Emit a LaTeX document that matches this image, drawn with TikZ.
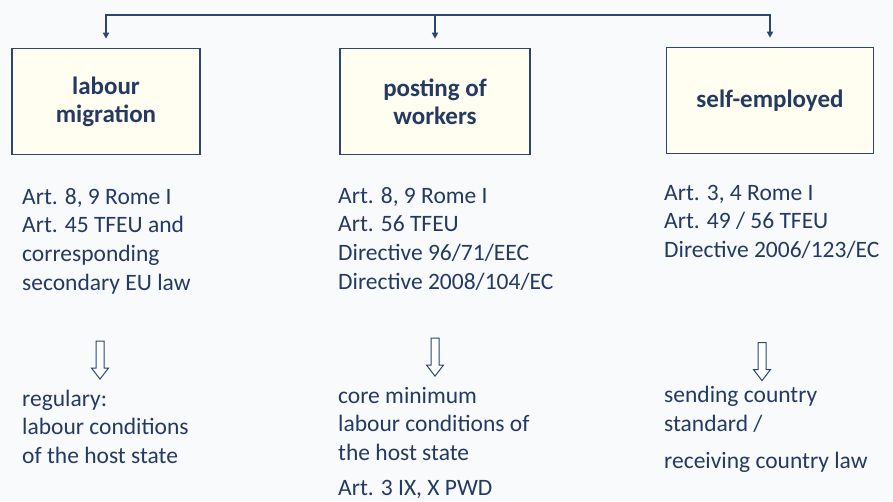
\documentclass[tikz,border=0pt]{standalone}
\usepackage{fontspec}
\setmainfont{Carlito}
\usetikzlibrary{arrows.meta,shapes.arrows}
\definecolor{paper}{HTML}{F9FAFB}
\definecolor{frame}{HTML}{2C4670}
\definecolor{ink}{HTML}{243A63}
\colorlet{boxfill}{yellow!6}
\tikzset{
  field/.style={draw=frame,fill=boxfill,line width=1.6pt,minimum width=188pt,minimum height=106pt,
    align=center,font=\fontsize{25}{28}\selectfont\bfseries,text=ink},
  legal/.style={anchor=north west,inner sep=0pt,align=left,text=ink,
    font=\fontsize{23.5}{28.7}\selectfont},
  leads/.style={single arrow,draw=frame,fill=white,line width=1pt,rotate=-90,minimum height=38pt,
    inner sep=3.5pt,single arrow head extend=4.5pt,single arrow tip angle=75},
  link/.style={-{Triangle[length=6pt,width=6pt]},draw=frame,line width=1.6pt,shorten >=9pt},
}
\begin{document}
\begin{tikzpicture}[x=1pt,y=-1pt]
      \fill [paper] (0,0) rectangle (893,501);
      \useasboundingbox (0,0) rectangle (893,501);
      % the three kinds of cross-border work
      \node [field] (migration) at (106,101.5) {labour\\migration};
      \node [field,minimum width=190pt] (posting) at (435,101.5) {posting of\\workers};
      \node [field,minimum width=207pt] (selfemp) at (770,100.5) {self-employed};
      \coordinate (bus) at (435,15);
      \draw [link] (bus) -| (migration.north);
      \draw [link] (bus) -- (posting.north);
      \draw [link] (bus) -| (selfemp.north);
      % applicable law
      \node [legal] (lawA) at (22,184) {\strut Art. 8, 9 Rome I\\Art. 45 TFEU and\\corresponding\\secondary EU law};
      \node [legal] (lawB) at (338,183) {\strut Art. 8, 9 Rome I\\Art. 56 TFEU\\Directive 96/71/EEC\\Directive 2008/104/EC};
      \node [legal] (lawC) at (664,180) {\strut Art. 3, 4 Rome I\\Art. 49 / 56 TFEU\\Directive 2006/123/EC};
      \node [leads] (toA) at (100,357.5) {};
      \node [leads] (toB) at (435,354.5) {};
      \node [leads] (toC) at (762,359) {};
      % resulting standard
      \node [legal] (resA) at (22,386) {\strut regulary:\\labour conditions\\of the host state};
      \node [legal] (resB) at (338,383) {\strut core minimum\\labour conditions of\\the host state\\[6pt]Art. 3 IX, X PWD};
      \node [legal] (resC) at (664,382) {\strut sending country\\standard /\\[9pt]receiving country law};
    \end{tikzpicture}
\end{document}
